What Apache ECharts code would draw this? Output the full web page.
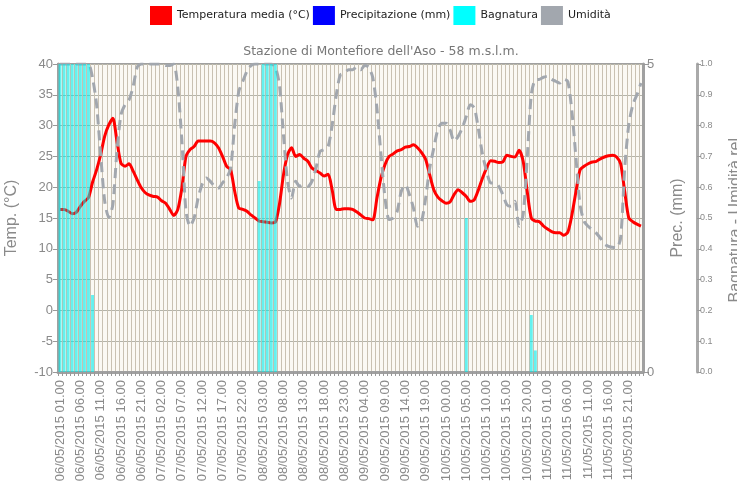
<!DOCTYPE html>
<html>
<head>
<meta charset="utf-8">
<script src="https://cdn.jsdelivr.net/npm/echarts@6/dist/echarts.min.js"></script>
<style>
html,body{margin:0;padding:0;background:#ffffff;}
#chart{width:737px;height:499px;}
</style>
</head>
<body>
<div id="chart"></div>
<script>
// ---- data ----
const days = ['06/05/2015','07/05/2015','08/05/2015','09/05/2015','10/05/2015','11/05/2015','12/05/2015'];
const startHour = 1;      // first reading: 06/05/2015 01.00
const hourCount = 144;    // hourly readings

const temperatura = [
  16.4,16.4,16.1,15.7,15.9,16.9,17.7,18.3,20.8,22.8,
  25.3,28.3,30.1,31.2,27.5,23.9,23.4,23.8,22.6,21.2,
  19.9,19.1,18.7,18.5,18.4,17.8,17.4,16.4,15.4,16.4,
  19.9,25.0,26.1,26.6,27.5,27.5,27.5,27.5,27.2,26.4,
  25.0,23.4,22.8,19.3,16.6,16.4,16.1,15.5,15.0,14.5,
  14.4,14.3,14.2,14.3,17.2,22.0,25.3,26.4,25.0,25.3,
  24.7,24.2,23.1,22.7,22.3,21.8,22.1,19.5,16.4,16.4,
  16.5,16.5,16.4,16.0,15.5,15.0,14.9,14.7,18.2,21.5,
  23.7,25.0,25.4,25.9,26.1,26.5,26.6,26.9,26.4,25.6,
  24.5,22.0,19.6,18.4,17.8,17.4,17.6,18.8,19.6,19.1,
  18.5,17.7,18.0,19.6,21.5,23.1,24.3,24.2,24.0,24.1,
  25.2,25.0,24.9,26.0,24.2,19.3,15.0,14.5,14.4,13.7,
  13.2,12.8,12.6,12.6,12.2,12.7,15.5,19.3,22.8,23.4,
  23.8,24.1,24.2,24.6,24.9,25.1,25.2,24.9,23.8,19.3,
  15.0,14.4,14.0,13.7
];

const precipitazione = [
  0,0,0,0,0,0,0,0,0,0,0,0,0,0,0,0,0,0,0,0,0,0,0,0,
  0,0,0,0,0,0,0,0,0,0,0,0,0,0,0,0,0,0,0,0,0,0,0,0,
  0,0,0,0,0,0,0,0,0,0,0,0,0,0,0,0,0,0,0,0,0,0,0,0,
  0,0,0,0,0,0,0,0,0,0,0,0,0,0,0,0,0,0,0,0,0,0,0,0,
  0,0,0,0,0,0,0,0,0,0,0,0,0,0,0,0,0,0,0,0,0,0,0,0,
  0,0,0,0,0,0,0,0,0,0,0,0,0,0,0,0,0,0,0,0,0,0,0,0
];

const bagnatura = [
  1,1,1,1,1,1,1,1,0.25,0,0,0,0,0,0,0,0,0,0,0,0,0,0,0,
  0,0,0,0,0,0,0,0,0,0,0,0,0,0,0,0,0,0,0,0,0,0,0,0,
  0,0.62,1,1,1,1,0,0,0,0,0,0,0,0,0,0,0,0,0,0,0,0,0,0,
  0,0,0,0,0,0,0,0,0,0,0,0,0,0,0,0,0,0,0,0,0,0,0,0,
  0,0,0,0,0.5,0,0,0,0,0,0,0,0,0,0,0,0,0,0,0,0.185,0.07,0,0,
  0,0,0,0,0,0,0,0,0,0,0,0,0,0,0,0,0,0,0,0,0,0,0,0
];

const umidita = [
  1.0,1.0,1.0,1.0,1.0,1.0,1.0,1.0,0.955,0.868,
  0.705,0.554,0.502,0.543,0.716,0.835,0.868,0.884,0.927,0.99,
  1.0,1.0,1.0,1.0,1.0,1.0,0.995,0.995,1.0,0.922,
  0.749,0.522,0.473,0.5,0.565,0.61,0.63,0.619,0.603,0.597,
  0.614,0.63,0.662,0.803,0.911,0.944,0.976,0.995,1.0,1.0,
  1.0,1.0,1.0,0.99,0.933,0.77,0.619,0.565,0.619,0.603,
  0.608,0.603,0.619,0.662,0.716,0.722,0.733,0.803,0.9,0.965,
  0.97,0.981,0.981,0.99,0.981,0.995,0.99,0.955,0.857,0.706,
  0.565,0.495,0.5,0.522,0.587,0.608,0.576,0.532,0.473,0.489,
  0.565,0.662,0.727,0.787,0.808,0.808,0.787,0.749,0.765,0.792,
  0.83,0.868,0.857,0.787,0.706,0.652,0.614,0.614,0.603,0.576,
  0.543,0.538,0.554,0.473,0.511,0.695,0.9,0.949,0.95,0.957,
  0.96,0.95,0.944,0.938,0.95,0.943,0.846,0.695,0.543,0.489,
  0.473,0.462,0.451,0.435,0.416,0.408,0.405,0.403,0.435,0.662,
  0.803,0.868,0.9,0.938
];

const seriesNames = ['Temperatura media (°C)','Precipitazione (mm)','Bagnatura','Umidità'];
const titleText = "Stazione di Montefiore dell'Aso - 58 m.s.l.m.";
const tempTicks = {min:-10, max:40, interval:5};
const precTicks = {min:0, max:5, interval:5};
const relTicks = {min:0, max:1, interval:0.1};

// build category labels "dd/mm/yyyy hh.00"
const categories = [];
for (let k = 0; k < hourCount; k++) {
  const h = startHour + k;
  const d = Math.floor(h / 24);
  const hh = h % 24;
  categories.push(days[d] + ' ' + (hh < 10 ? '0' : '') + hh + '.00');
}

// ---- chart ----
const chart = echarts.init(document.getElementById('chart'), null, {renderer:'canvas'});
const axisGray = '#a0a0a0';
const labelGray = '#8a8a8a';
const option = {
  animation: false,
  backgroundColor: '#ffffff',
  title: {
    text: titleText,
    left: 376, top: 40, textAlign: 'center',
    textStyle: {fontFamily:'DejaVu Sans', fontSize:12.5, fontWeight:'normal', color:'#777'}
  },
  legend: {
    left: 145, top: 1,
    icon: 'rect', itemWidth: 22, itemHeight: 19, itemGap: 3,
    textStyle: {fontFamily:'DejaVu Sans', fontSize:11, color:'#222'},
    itemStyle: {borderWidth: 0},
    data: [
      {name: seriesNames[0], itemStyle:{color:'#ff0000'}},
      {name: seriesNames[1], itemStyle:{color:'#0000ff'}},
      {name: seriesNames[2], itemStyle:{color:'#00ffff', opacity:1}},
      {name: seriesNames[3], itemStyle:{color:'#a2a7ae'}}
    ]
  },
  grid: {
    left: 58, right: 94, top: 64, bottom: 127,
    containLabel: false, outerBoundsMode: 'none',
    show: true, backgroundColor: '#fbf9f4', borderColor: axisGray, borderWidth: 2
  },
  xAxis: {
    type: 'category',
    data: categories,
    boundaryGap: true,
    axisLine: {onZero:false, lineStyle:{color: axisGray, width: 3}},
    axisTick: {show:true, interval:0, length:4, lineStyle:{color:'#999'}},
    axisLabel: {interval:4, rotate:90, color: labelGray, fontSize:13, fontFamily:'Liberation Sans', margin:8},
    splitLine: {show:true, interval:0, lineStyle:{color:'#c9c1b2', width:1}}
  },
  yAxis: [
    {
      type:'value', position:'left', min:tempTicks.min, max:tempTicks.max, interval:tempTicks.interval,
      name:'Temp. (°C)', nameLocation:'middle', nameGap:38,
      nameTextStyle:{fontFamily:'Liberation Sans', fontSize:16, color:labelGray},
      axisLine:{show:true, lineStyle:{color:axisGray, width:3}},
      axisTick:{show:true, length:5, lineStyle:{color:'#999'}},
      axisLabel:{color:labelGray, fontSize:13, fontFamily:'Liberation Sans', margin:5},
      splitLine:{show:true, lineStyle:{color:'#b4b4aa', width:1}}
    },
    {
      type:'value', position:'right', min:precTicks.min, max:precTicks.max, interval:precTicks.interval,
      name:'Prec. (mm)', nameLocation:'middle', nameGap:27,
      nameTextStyle:{fontFamily:'Liberation Sans', fontSize:16, color:labelGray},
      axisLine:{show:true, lineStyle:{color:axisGray, width:3}},
      axisTick:{show:true, length:6, lineStyle:{color:'#999'}},
      axisLabel:{color:labelGray, fontSize:13, fontFamily:'Liberation Sans', margin:4},
      splitLine:{show:false}
    },
    {
      type:'value', position:'right', offset:54, min:relTicks.min, max:relTicks.max, interval:relTicks.interval,
      name:'Bagnatura - Umidità rel.', nameLocation:'middle', nameGap:31,
      nameTextStyle:{fontFamily:'Liberation Sans', fontSize:16, color:labelGray},
      axisLine:{show:true, lineStyle:{color:'#aaaaaa', width:3}},
      axisTick:{show:true, length:4, lineStyle:{color:'#999'}},
      axisLabel:{color:labelGray, fontSize:9, fontFamily:'Liberation Sans', margin:3,
                 formatter:function(v){return v.toFixed(1);}},
      splitLine:{show:false}
    }
  ],
  series: [
    {
      name: seriesNames[0], type:'line', yAxisIndex:0, data: temperatura,
      symbol:'none', smooth:0.25, z:3,
      lineStyle:{color:'#ff0000', width:3}, itemStyle:{color:'#ff0000'}
    },
    {
      name: seriesNames[1], type:'bar', yAxisIndex:1, data: precipitazione,
      barWidth:'72%', barGap:'-100%', z:4,
      itemStyle:{color:'#0000ff'}
    },
    {
      name: seriesNames[2], type:'bar', yAxisIndex:2, data: bagnatura,
      barWidth:'72%', barGap:'-100%', z:4,
      itemStyle:{color:'rgba(0,235,235,0.6)'}
    },
    {
      name: seriesNames[3], type:'line', yAxisIndex:2, data: umidita,
      symbol:'none', smooth:0.25, z:3,
      lineStyle:{color:'#a2a7ae', width:3, type:[10,6]}, itemStyle:{color:'#a2a7ae'}
    }
  ]
};
chart.setOption(option);
</script>
</body>
</html>
